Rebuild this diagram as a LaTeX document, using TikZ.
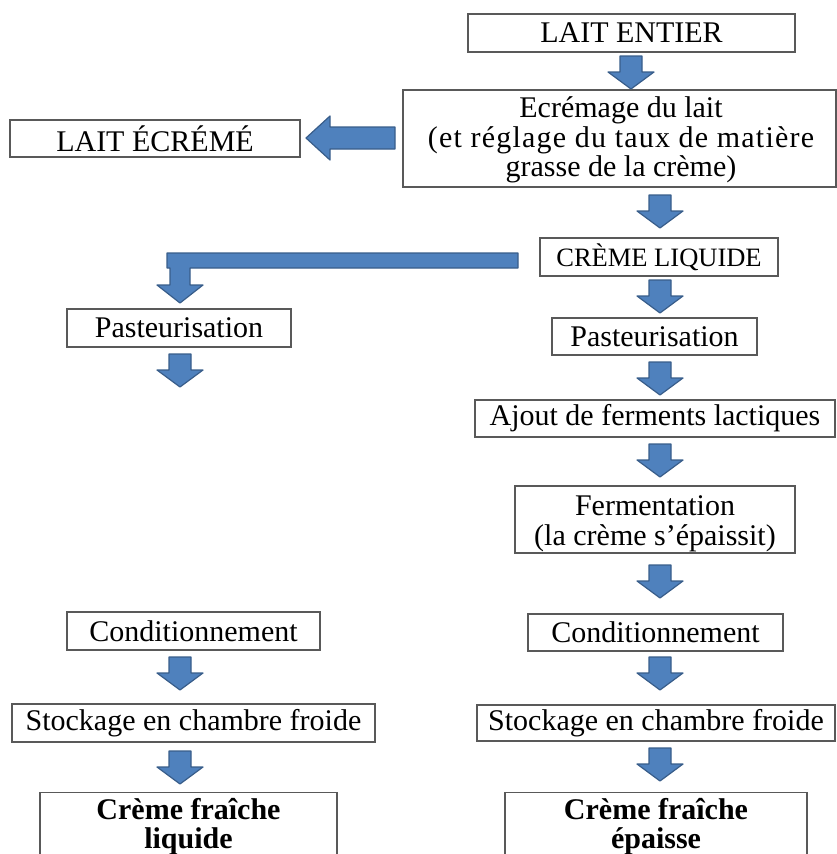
\documentclass[tikz,border=0pt]{standalone}
\usepackage{fontspec}
\setmainfont{Liberation Serif}
\definecolor{arrfill}{HTML}{4F81BD}
\definecolor{arrdraw}{HTML}{385D8A}
\definecolor{boxdraw}{HTML}{595959}
\begin{document}
\begin{tikzpicture}[x=1pt,y=-1pt,
  box/.style={draw=boxdraw,line width=1.1pt,fill=white,inner sep=0pt,align=center,
    font=\fontsize{30}{29.5}\selectfont},
  boldbox/.style={box,font=\fontsize{30}{28.5}\selectfont\bfseries,anchor=north,minimum height=68},
  blockarrow/.style={fill=arrfill,draw=arrdraw,line width=1.2pt,line join=round},
  pics/darr/.style={code={\draw[blockarrow] (-11,0) -- (11,0) -- (11,16) -- (23,16) -- (0,33) -- (-23,16) -- (-11,16) -- cycle;}}
]
\useasboundingbox (0,0) rectangle (837,854);
\clip (0,0) rectangle (837,854);
% boxes
\node[box,minimum width=327,minimum height=38] (lait) at (631.5,33) {LAIT ENTIER};
\node[box,minimum width=433,minimum height=97] (ecr) at (619.5,138.5) {};
\node[align=center,inner sep=0pt,font=\fontsize{30}{29.5}\selectfont] (ecrtxt) at (621,140) {Ecrémage du lait\\{\addfontfeatures{LetterSpace=4}(et réglage du taux de matière}\\grasse de la crème)};
\node[box,minimum width=290,minimum height=37] (ecreme) at (155,138.5) {LAIT ÉCRÉMÉ};
\node[box,minimum width=238,minimum height=38,font=\fontsize{26.5}{26.5}\selectfont] (creme) at (659,257) {CRÈME LIQUIDE};
\node[box,minimum width=224,minimum height=38] (pastL) at (179,328) {Pasteurisation};
\node[box,minimum width=205,minimum height=37] (pastR) at (654.5,336.5) {Pasteurisation};
\node[box,minimum width=360,minimum height=37] (ajout) at (655,418.5) {Ajout de ferments lactiques};
\node[box,minimum width=280,minimum height=67] (ferm) at (655,519.5) {};
\node[align=center,inner sep=0pt,font=\fontsize{30}{29.5}\selectfont] (fermtxt) at (655,524) {Fermentation\\(la crème s’épaissit)};
\node[box,minimum width=255,minimum height=37] (condR) at (655.5,632.5) {Conditionnement};
\node[box,minimum width=358,minimum height=36] (stockR) at (656,723) {Stockage en chambre froide};
\node[boldbox,minimum width=302] (finR) at (656,792) {Crème fraîche\\épaisse};
\node[box,minimum width=253,minimum height=38] (condL) at (193.5,631) {Conditionnement};
\node[box,minimum width=363,minimum height=38] (stockL) at (193.5,723) {Stockage en chambre froide};
\node[boldbox,minimum width=297] (finL) at (188.5,792) {Crème fraîche\\liquide};
% block arrows
\path (631,56) pic {darr};
\path (660,195) pic {darr};
\path (660,280) pic {darr};
\path (660,362) pic {darr};
\path (660,444) pic {darr};
\path (660,565) pic {darr};
\path (660,657) pic {darr};
\path (660,748) pic {darr};
\path (180,354) pic {darr};
\path (180,657) pic {darr};
\path (180,751) pic {darr};
% left arrow to LAIT ECREME
\draw[blockarrow] (395,127) -- (330,127) -- (330,116) -- (306,138) -- (330,160) -- (330,149) -- (395,149) -- cycle;
% L-shaped arrow from CREME LIQUIDE to left Pasteurisation
\draw[blockarrow] (518,253) -- (167,253) -- (167,268) -- (170,268) -- (170,285) -- (157,285) -- (180,303) -- (203,285) -- (190,285) -- (190,268) -- (518,268) -- cycle;
\end{tikzpicture}
\end{document}
